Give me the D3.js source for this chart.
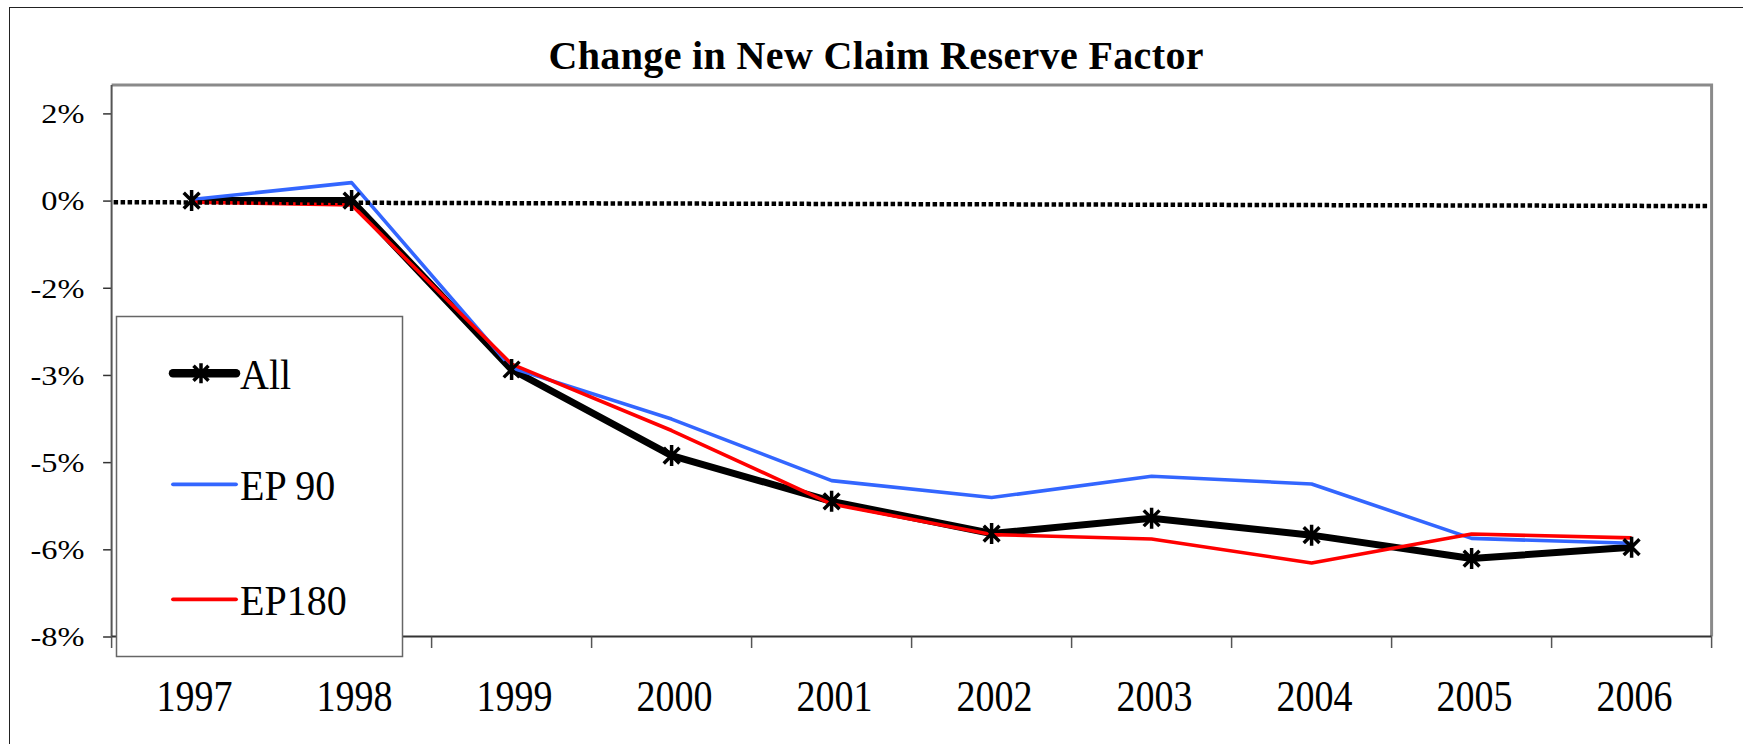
<!DOCTYPE html>
<html>
<head>
<meta charset="utf-8">
<script src="https://cdn.jsdelivr.net/npm/d3@7"></script>
<style>
    body { margin: 0; background: #fff; }
    text { font-family: "Liberation Serif", "Times New Roman", serif; fill: #000; }
</style>
</head>
<body>
<svg id="canvas" width="1743" height="744"></svg>
<script>
// values, in percent
const years = [1997, 1998, 1999, 2000, 2001, 2002, 2003, 2004, 2005, 2006];
const allValues = [0, 0, -3.1, -4.68, -5.52, -6.11, -5.83, -6.14, -6.57, -6.36];
const ep90Values = [0.02, 0.33, -3.07, -4.01, -5.14, -5.45, -5.06, -5.2, -6.2, -6.29];
const ep180Values = [-0.03, -0.08, -3.0, -4.22, -5.57, -6.13, -6.21, -6.65, -6.12, -6.19];
const zeroLineValues = [-0.03, -0.1];   // dotted reference line, left end / right end
const yTickValues = [1.6, 0, -1.6, -3.2, -4.8, -6.4, -8];
const yTickLabels = ["2%", "0%", "-2%", "-3%", "-5%", "-6%", "-8%"];
const seriesNames = ["All", "EP 90", "EP180"];
const seriesColors = ["#000000", "#3366ff", "#ff0000"];
const chartTitle = "Change in New Claim Reserve Factor";

const svg = d3.select('#canvas');

const left = 111.6, right = 1711.6, frameTop = 85;
const x = d3.scaleBand().domain(years).range([left, right]);
const y = d3.scaleLinear().domain([-8, 1.6]).range([636.5, 113.4]);
const cx = d => x(d) + x.bandwidth() / 2;

// outer chart border (only left/top edges are inside the picture)
svg.append('rect')
    .attr('x', 9.5).attr('y', 7.5)
    .attr('width', 1800).attr('height', 800)
    .attr('fill', 'none')
    .attr('stroke', '#222')
    .attr('stroke-width', 1);

// title
svg.append('text')
    .attr('x', 876).attr('y', 69)
    .attr('text-anchor', 'middle')
    .attr('textLength', 655)
    .attr('lengthAdjust', 'spacing')
    .style('font-size', '40px')
    .style('font-weight', 'bold')
    .text(chartTitle);

// plot frame top and right edges
svg.append('path')
    .attr('d', `M${left},${frameTop}H${right}V${y(-8)}`)
    .attr('fill', 'none')
    .attr('stroke', '#8a8a8a')
    .attr('stroke-width', 3);

// y axis
const yAxis = svg.append('g')
    .attr('transform', `translate(${left},0)`)
    .call(d3.axisLeft(y).tickValues(yTickValues).tickSize(8.5).tickPadding(0).tickFormat(''));
yAxis.select('.domain').remove();
yAxis.selectAll('line').attr('stroke', '#333').attr('stroke-width', 1.5);
svg.append('line')
    .attr('x1', left).attr('x2', left)
    .attr('y1', frameTop).attr('y2', y(-8))
    .attr('stroke', '#555').attr('stroke-width', 2);

yTickValues.forEach((v, i) => {
    svg.append('text')
        .attr('transform', `translate(84.5,${y(v) + 9.8}) scale(1.2,1.05)`)
        .attr('text-anchor', 'end')
        .style('font-size', '27px')
        .text(yTickLabels[i]);
});

// x axis with ticks on the category boundaries
const bounds = years.map(d => x(d)).concat([right]);
svg.append('line')
    .attr('x1', left).attr('x2', right)
    .attr('y1', y(-8)).attr('y2', y(-8))
    .attr('stroke', '#333').attr('stroke-width', 2);
svg.selectAll('.xtick')
    .data(bounds)
    .enter().append('line')
    .attr('class', 'xtick')
    .attr('x1', d => d).attr('x2', d => d)
    .attr('y1', y(-8)).attr('y2', y(-8) + 11.5)
    .attr('stroke', '#555').attr('stroke-width', 1.5);
svg.selectAll('.xlabel')
    .data(years)
    .enter().append('text')
    .attr('class', 'xlabel')
    .attr('transform', d => `translate(${cx(d) + 3},710.5) scale(1,1.14)`)
    .attr('text-anchor', 'middle')
    .style('font-size', '38px')
    .text(d => d);

// series lines
const line = d3.line().x((d, i) => cx(years[i])).y(d => y(d));
const seriesValues = [allValues, ep90Values, ep180Values];
const seriesWidths = [7, 3.6, 3.6];
seriesValues.forEach((vals, s) => {
    svg.append('path')
        .datum(vals)
        .attr('d', line)
        .attr('fill', 'none')
        .attr('stroke', seriesColors[s])
        .attr('stroke-width', seriesWidths[s])
        .attr('stroke-linejoin', 'round');
});

// dotted zero line across the plot
svg.append('line')
    .attr('x1', left + 2).attr('x2', right - 2)
    .attr('y1', y(zeroLineValues[0])).attr('y2', y(zeroLineValues[1]))
    .attr('stroke', '#000')
    .attr('stroke-width', 4.5)
    .attr('stroke-dasharray', '4.5,2.5');

// asterisk markers for "All"
function star(r) {
    const a = r * 0.75;
    return `M0,${-r}L0,${r}M${-a},${-a}L${a},${a}M${-a},${a}L${a},${-a}`;
}
svg.selectAll('.marker')
    .data(allValues)
    .enter().append('path')
    .attr('class', 'marker')
    .attr('transform', (d, i) => `translate(${cx(years[i])},${y(d)})`)
    .attr('d', star(10.5))
    .attr('fill', 'none')
    .attr('stroke', '#000')
    .attr('stroke-width', 3.5);

// legend
const legend = svg.append('g');
legend.append('rect')
    .attr('x', 116.5).attr('y', 316.5)
    .attr('width', 286).attr('height', 340)
    .attr('fill', '#fff')
    .attr('stroke', '#666')
    .attr('stroke-width', 1.5);
const legendY = [373.3, 484.3, 599.3];
seriesNames.forEach((name, i) => {
    legend.append('line')
        .attr('x1', 173).attr('x2', 236)
        .attr('y1', legendY[i]).attr('y2', legendY[i])
        .attr('stroke', seriesColors[i])
        .attr('stroke-width', i === 0 ? 8.5 : 3.8)
        .attr('stroke-linecap', 'round');
    if (i === 0) {
        legend.append('path')
            .attr('transform', `translate(201,${legendY[i]})`)
            .attr('d', star(10))
            .attr('fill', 'none')
            .attr('stroke', '#000')
            .attr('stroke-width', 3.5);
    }
    legend.append('text')
        .attr('transform', `translate(240,${legendY[i] + 16}) scale(1,1.04)`)
        .style('font-size', '40px')
        .text(name);
});
</script>
</body>
</html>
